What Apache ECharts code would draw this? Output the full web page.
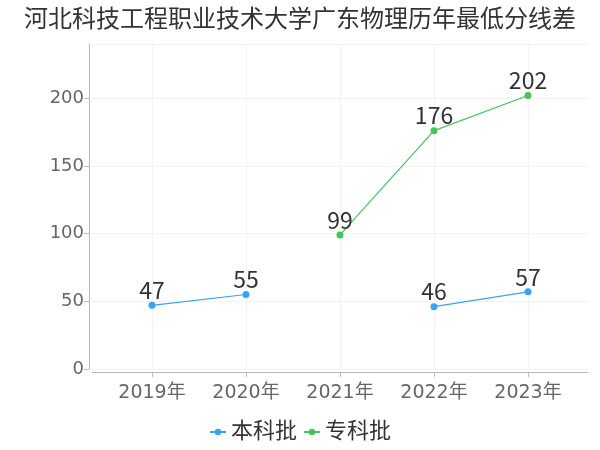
<!DOCTYPE html>
<html><head><meta charset="utf-8">
<script src="https://cdn.jsdelivr.net/npm/echarts@6/dist/echarts.min.js"></script>
<style>html,body{margin:0;padding:0;background:#fff}#c{width:600px;height:450px}</style>
</head><body><div id="c"></div>
<script>
const title = '河北科技工程职业技术大学广东物理历年最低分线差';
const categories = ['2019年','2020年','2021年','2022年','2023年'];
const benke = [47, 55, null, 46, 57];
const zhuanke = [null, null, 99, 176, 202];
const yTicks = [0, 50, 100, 150, 200];

const toPairs = arr => arr.map((v, i) => [i, v == null ? '-' : v]);
const idx = categories.map((_, i) => i);
const font = '"DejaVu Sans", "Noto Sans CJK SC", sans-serif';
const cjk = '"Noto Sans CJK SC", sans-serif';

const chart = echarts.init(document.getElementById('c'));
chart.setOption({
  animation: false,
  textStyle: { fontFamily: font },
  title: { text: title, left: 'center', top: 4,
    textStyle: { fontSize: 24, fontWeight: 'normal', color: '#333', fontFamily: font } },
  legend: { bottom: 2, itemGap: 6, itemWidth: 16, itemHeight: 8,
    textStyle: { fontSize: 22, color: '#333', fontFamily: font },
    data: ['本科批', '专科批'] },
  grid: { left: 92, right: 12, top: 44, bottom: 81 },
  xAxis: {
    type: 'value', min: -0.638, max: 4.638, offset: 3,
    axisLine: { show: true, onZero: false, lineStyle: { color: '#bbb' } },
    axisTick: { show: true, customValues: idx, lineStyle: { color: '#bbb' } },
    axisLabel: { customValues: idx, formatter: v => categories[Math.round(v)] || '',
      fontSize: 19, color: '#666', margin: 12, fontFamily: font },
    splitLine: { show: true, lineStyle: { color: '#f3f3f3' } }
  },
  yAxis: {
    type: 'value', min: 0, max: 240, interval: 50, offset: 3,
    axisLine: { show: true, onZero: false, lineStyle: { color: '#bbb' } },
    axisTick: { show: true, lineStyle: { color: '#bbb' } },
    axisLabel: { fontSize: 18, color: '#666', showMaxLabel: false, margin: 5, fontFamily: font,
      formatter: v => yTicks.includes(v) ? String(v) : '' },
    splitLine: { show: true, lineStyle: { color: '#f3f3f3' } }
  },
  series: [
    { name: '本科批', type: 'line', data: toPairs(benke), color: '#3ba2f6',
      symbol: 'circle', symbolSize: 7, lineStyle: { width: 1.2 }, connectNulls: false,
      label: { show: true, position: 'top', fontSize: 23, color: '#333', distance: 0, fontFamily: cjk } },
    { name: '专科批', type: 'line', data: toPairs(zhuanke), color: '#47c45c',
      symbol: 'circle', symbolSize: 7, lineStyle: { width: 1.2 }, connectNulls: false,
      label: { show: true, position: 'top', fontSize: 23, color: '#333', distance: 0, fontFamily: cjk } }
  ]
});
</script></body></html>
